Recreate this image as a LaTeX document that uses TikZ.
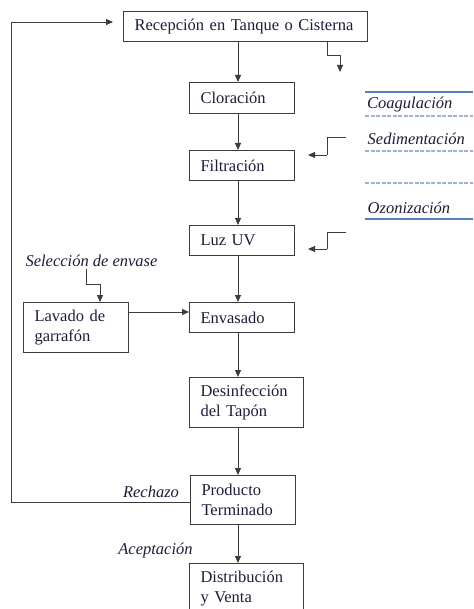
\documentclass[tikz,border=0pt]{standalone}
\usepackage{fontspec}
\setmainfont{Liberation Serif}
\usetikzlibrary{arrows.meta}
\definecolor{ink}{RGB}{28,28,58}
\definecolor{linegray}{RGB}{60,60,60}
\definecolor{accentblue}{RGB}{79,129,189}
\definecolor{ruleblue}{RGB}{160,180,208}
\begin{document}
\begin{tikzpicture}[x=1pt,y=-1pt,
  font=\fontsize{16.5}{19.5}\selectfont,
  every node/.style={text=ink},
  stepbox/.style={draw=linegray,line width=1.1pt,anchor=north west,
    inner xsep=11pt,inner ysep=0pt,align=left},
  flow/.style={draw=linegray,line width=0.9pt,
    -{Triangle[length=7pt,width=6pt]}},
  plain/.style={draw=linegray,line width=0.9pt},
  label/.style={font=\fontsize{16.5}{19.5}\selectfont\itshape,inner sep=0pt},
  solidrule/.style={draw=accentblue,line width=2pt},
  dashrule/.style={draw=ruleblue,line width=1.2pt,dash pattern=on 4pt off 1.5pt}]
\useasboundingbox (0,0) rectangle (473,609);

% process boxes
\node[stepbox,text width=222pt,minimum height=30pt] (rec) at (123,11) {Recepción en Tanque o Cisterna};
\node[stepbox,text width=83pt,minimum height=31pt] (clo) at (189,82) {Cloración};
\node[stepbox,text width=83pt,minimum height=30pt] (fil) at (189,150) {Filtración};
\node[stepbox,text width=83pt,minimum height=30pt] (uv) at (189,225) {Luz UV};
\node[stepbox,text width=83pt,minimum height=30pt] (env) at (189,302) {Envasado};
\node[stepbox,text width=92pt,minimum height=50pt] (des) at (189,377) {Desinfección\\del Tapón};
\node[stepbox,text width=83pt,minimum height=49pt] (pro) at (190,475) {Producto\\Terminado};
\node[stepbox,text width=92pt,minimum height=50pt] (dis) at (189,563) {Distribución\\y Venta};
\node[stepbox,text width=83pt,minimum height=50pt] (lav) at (23,302) {Lavado de\\garrafón};

% main column of arrows
\coordinate (col) at (238,0);
\draw[flow] (rec.south -| col) -- (clo.north -| col);
\draw[flow] (clo.south -| col) -- (fil.north -| col);
\draw[flow] (fil.south -| col) -- (uv.north -| col);
\draw[flow] (uv.south -| col) -- (env.north -| col);
\draw[flow] (env.south -| col) -- (des.north -| col);
\draw[flow] (des.south -| col) -- (pro.north -| col);
\draw[flow] (pro.south -| col) -- (dis.north -| col);

% washing feeds the filling step
\coordinate (lavrow) at (0,312);
\draw[flow] (lav.east |- lavrow) -- (env.west |- lavrow);

% container selection
\node[label] (sel) at (91.5,261) {Selección de envase};
\coordinate (selbend) at (86.7,284);
\coordinate (seldrop) at (100,284);
\draw[plain] (selbend |- sel.south) ++(0,2) -- (selbend) -- (seldrop);
\draw[flow] (seldrop) -- (lav.north -| seldrop);

% rejected product returns to reception
\coordinate (rejrow) at (0,502);
\coordinate (leftrail) at (11.7,22);
\coordinate (recin) at (113,22);
\draw[flow] (pro.west |- rejrow) -| (leftrail) -- (recin);
\node[label] (rej) at (151,492) {Rechazo};
\node[label] (acc) at (155.5,550.5) {Aceptación};

% side branch out of reception
\coordinate (sb1) at (327,55);
\coordinate (sb2) at (340,55);
\coordinate (sb3) at (340,72);
\draw[plain] (rec.south -| sb1) -- (sb1) -- (sb2);
\draw[flow] (sb2) -- (sb3);

% side inputs to filtration and UV
\coordinate (fa) at (346,137);
\coordinate (fb) at (327,137);
\coordinate (fc) at (327,155);
\coordinate (fd) at (308,155);
\draw[plain] (fa) -- (fb) -- (fc);
\draw[flow] (fc) -- (fd);
\coordinate (ua) at (346,232);
\coordinate (ub) at (327,232);
\coordinate (uc) at (327,249);
\coordinate (ud) at (308,249);
\draw[plain] (ua) -- (ub) -- (uc);
\draw[flow] (uc) -- (ud);

% treatment options list
\coordinate (ra) at (365,0);
\coordinate (rb) at (473,0);
\draw[solidrule] (ra |- 0,91.7) -- (rb |- 0,91.7);
\node[label,anchor=west] (coa) at (367,104.5) {Coagulación};
\draw[dashrule] (ra |- 0,116) -- (rb |- 0,116);
\node[label,anchor=west] (sed) at (367.5,139) {Sedimentación};
\draw[dashrule] (ra |- 0,151) -- (rb |- 0,151);
\draw[dashrule] (ra |- 0,183) -- (rb |- 0,183);
\node[label,anchor=west] (ozo) at (367.5,208) {Ozonización};
\draw[solidrule] (ra |- 0,219) -- (rb |- 0,219);
\end{tikzpicture}
\end{document}
